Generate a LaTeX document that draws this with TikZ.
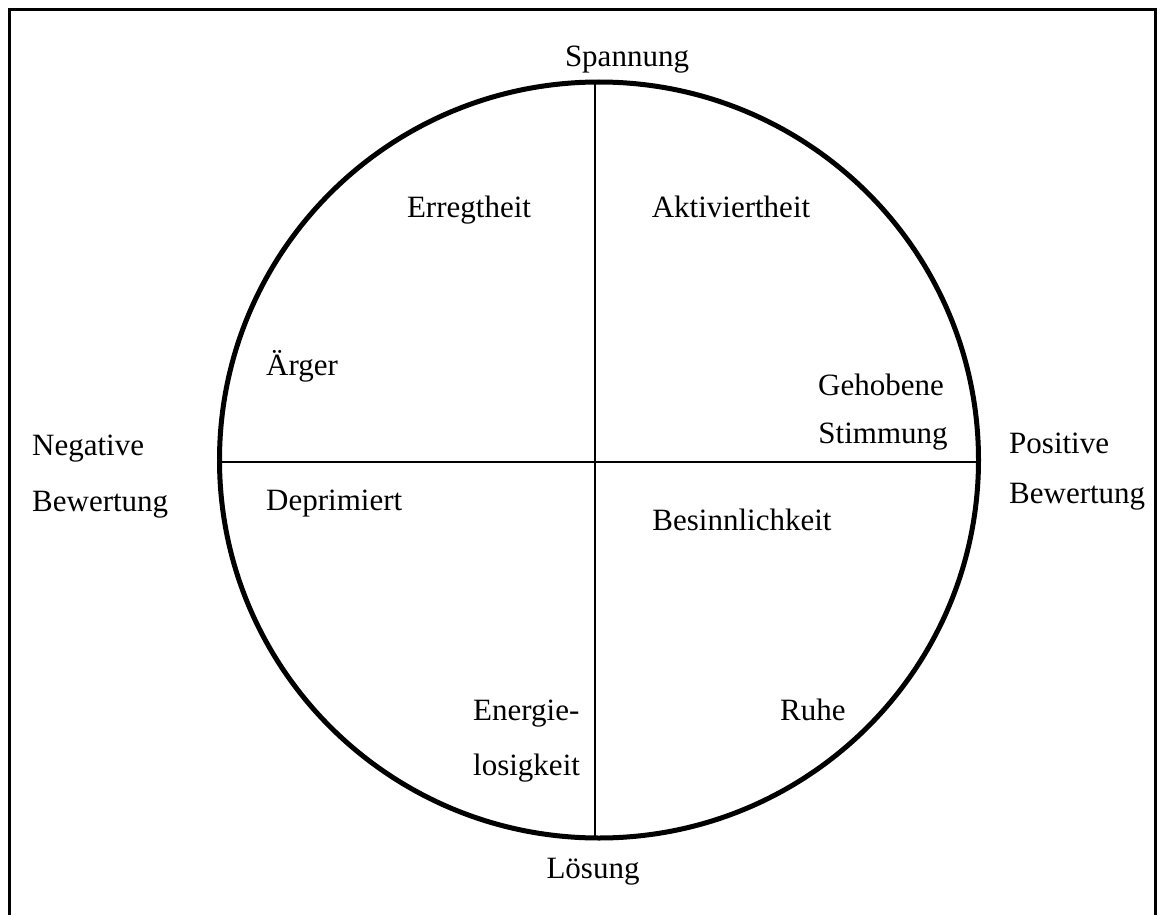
\documentclass[tikz,border=0pt]{standalone}
\usepackage{fontspec}
\setmainfont{Liberation Serif}
\begin{document}
\begin{tikzpicture}[x=1pt,y=-1pt,
  lbl/.style={inner sep=0pt,anchor=base,font=\fontsize{31}{36}\selectfont},
  lblw/.style={lbl,anchor=base west},
  ring/.style={draw,line width=5pt},
  axis/.style={draw,line width=2.8pt},
  frame/.style={draw,line width=3.2pt}]
\useasboundingbox (0,0) rectangle (1157,915);
% outer frame
\draw[frame] (9.5,9.5) rectangle (1156,925);
% circle and its two axes
\coordinate (ctr) at (599,460);
\draw[ring] (ctr) circle [x radius=379.5pt, y radius=378pt];
\coordinate (top) at (595,82);
\coordinate (bot) at (595,838);
\coordinate (lft) at (220,462);
\coordinate (rgt) at (978,462);
\draw[axis] (top) -- (bot);
\draw[axis] (lft) -- (rgt);
% axis labels
\node[lbl] (span) at (627,67) {Spannung};
\node[lbl] (loes) at (593,878) {Lösung};
\node[lblw] (neg1) at (32,455) {Negative};
\node[lblw] (neg2) at (32,511) {Bewertung};
\node[lblw] (pos1) at (1009,453) {Positive};
\node[lblw] (pos2) at (1009,503) {Bewertung};
% states
\node[lbl] (erreg) at (469,218) {Erregtheit};
\node[lbl] (aktiv) at (731,218) {Aktiviertheit};
\node[lblw] (aerger) at (266,375) {Ärger};
\node[lbl] (geh1) at (881,395) {Gehobene};
\node[lbl] (geh2) at (883,443) {Stimmung};
\node[lblw] (depr) at (266,510) {Deprimiert};
\node[lbl] (besinn) at (742,530) {Besinnlichkeit};
\node[lblw] (ener1) at (473,720) {Energie-};
\node[lblw] (ener2) at (473,775) {losigkeit};
\node[lblw] (ruhe) at (780,720) {Ruhe};
\end{tikzpicture}
\end{document}
